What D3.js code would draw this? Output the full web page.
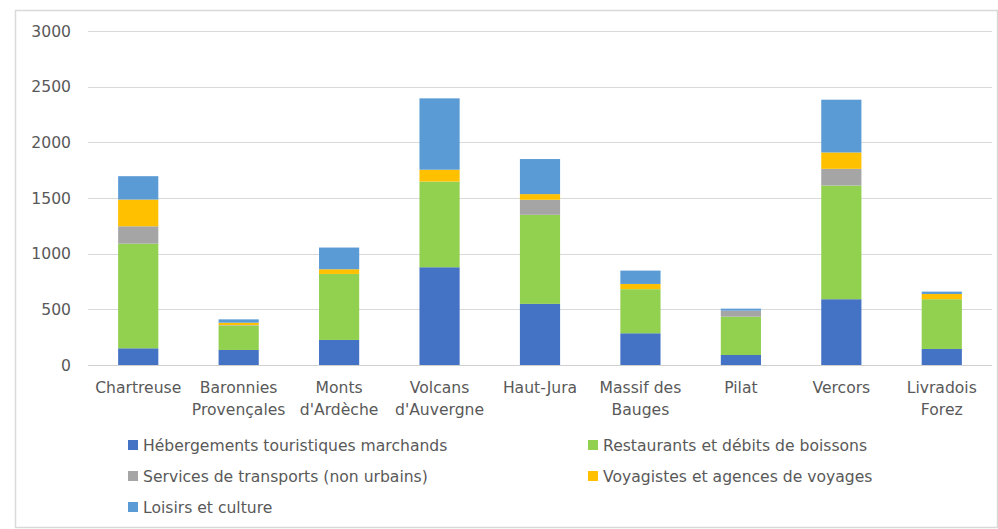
<!DOCTYPE html>
<html>
<head>
<meta charset="utf-8">
<script src="https://cdn.jsdelivr.net/npm/d3@7"></script>
<style>
  html, body { margin: 0; padding: 0; background: #fff; }
  svg { display: block; }
  text { font-family: "DejaVu Sans", sans-serif; fill: #595959; }
</style>
</head>
<body>
<svg id="chart" width="998" height="529"></svg>
<script>
const categories = [
  "Chartreuse", "Baronnies\nProvençales", "Monts\nd'Ardèche", "Volcans\nd'Auvergne",
  "Haut-Jura", "Massif des\nBauges", "Pilat", "Vercors", "Livradois\nForez"
];
const seriesNames = [
  "Hébergements touristiques marchands",
  "Restaurants et débits de boissons",
  "Services de transports (non urbains)",
  "Voyagistes et agences de voyages",
  "Loisirs et culture"
];
const hebergements = [150, 135, 225, 878, 549, 285, 90, 591, 144];
const restaurants  = [940, 218, 593, 770, 800, 396, 344, 1021, 447];
const transports   = [156, 5, 0, 0, 135, 0, 54, 150, 0];
const voyagistes   = [240, 22, 42, 106, 51, 47, 0, 147, 47];
const loisirs      = [210, 30, 195, 641, 315, 120, 18, 474, 21];
const yTicks = [0, 500, 1000, 1500, 2000, 2500, 3000];
const colors = ["#4472C4", "#92D050", "#A5A5A5", "#FFC000", "#5B9BD5"];

const seriesValues = [hebergements, restaurants, transports, voyagistes, loisirs];
const rows = categories.map((c, i) => {
  const r = { cat: c };
  seriesNames.forEach((s, j) => r[s] = seriesValues[j][i]);
  return r;
});

const svg = d3.select("#chart");
const plot = { left: 88, right: 992, top: 31, bottom: 365 };
const fs = 15.6;

// chart border
svg.append("rect")
  .attr("x", 15.5).attr("y", 10.5)
  .attr("width", 982).attr("height", 517)
  .attr("fill", "none").attr("stroke", "#d9d9d9").attr("stroke-width", 1.5);

const x = d3.scaleBand().domain(categories)
  .range([plot.left, plot.right]).paddingInner(0.6).paddingOuter(0.3);
const y = d3.scaleLinear().domain([0, 3000]).range([plot.bottom, plot.top]);

// gridlines
svg.append("g").selectAll("line").data(yTicks).join("line")
  .attr("x1", plot.left).attr("x2", plot.right)
  .attr("y1", d => Math.round(y(d)) + 0.5).attr("y2", d => Math.round(y(d)) + 0.5)
  .attr("stroke", "#d9d9d9").attr("stroke-width", 1.2);

// y axis labels
const yAxis = d3.axisLeft(y).tickValues(yTicks).tickFormat(d3.format("d")).tickSize(0).tickPadding(0);
const yg = svg.append("g").attr("transform", "translate(71,0)").call(yAxis);
yg.select(".domain").remove();
yg.selectAll("text").attr("font-size", fs).attr("fill", "#595959")
  .style("font-family", "'DejaVu Sans', sans-serif");

// stacked bars
const stack = d3.stack().keys(seriesNames);
const stacked = stack(rows);
svg.append("g").selectAll("g").data(stacked).join("g")
  .attr("fill", (d, i) => colors[i])
  .selectAll("rect").data(d => d).join("rect")
  .attr("x", d => x(d.data.cat))
  .attr("width", x.bandwidth())
  .attr("y", d => y(d[1]))
  .attr("height", d => Math.max(0, y(d[0]) - y(d[1])));

// x axis line
svg.append("line")
  .attr("x1", plot.left).attr("x2", plot.right)
  .attr("y1", Math.round(y(0)) + 0.5).attr("y2", Math.round(y(0)) + 0.5)
  .attr("stroke", "#d0d0d0").attr("stroke-width", 1.2);

// x labels
const xl = svg.append("g").selectAll("text").data(categories).join("text")
  .attr("x", d => x(d) + x.bandwidth() / 2)
  .attr("y", 393)
  .attr("text-anchor", "middle")
  .attr("font-size", fs);
xl.each(function(d) {
  const lines = d.split("\n");
  d3.select(this).selectAll("tspan").data(lines).join("tspan")
    .attr("x", x(d) + x.bandwidth() / 2)
    .attr("dy", (l, i) => i === 0 ? 0 : 22)
    .text(l => l);
});

// legend
const legendPos = [
  { x: 128, y: 445 }, { x: 588, y: 445 },
  { x: 128, y: 476 }, { x: 588, y: 476 },
  { x: 128, y: 507 }
];
const lg = svg.append("g").selectAll("g").data(seriesNames).join("g")
  .attr("transform", (d, i) => `translate(${legendPos[i].x},${legendPos[i].y})`);
lg.append("rect").attr("x", 0).attr("y", -5).attr("width", 10).attr("height", 10)
  .attr("fill", (d, i) => colors[i]);
lg.append("text").attr("x", 15).attr("y", 5.5).attr("font-size", fs).text(d => d);
</script>
</body>
</html>
